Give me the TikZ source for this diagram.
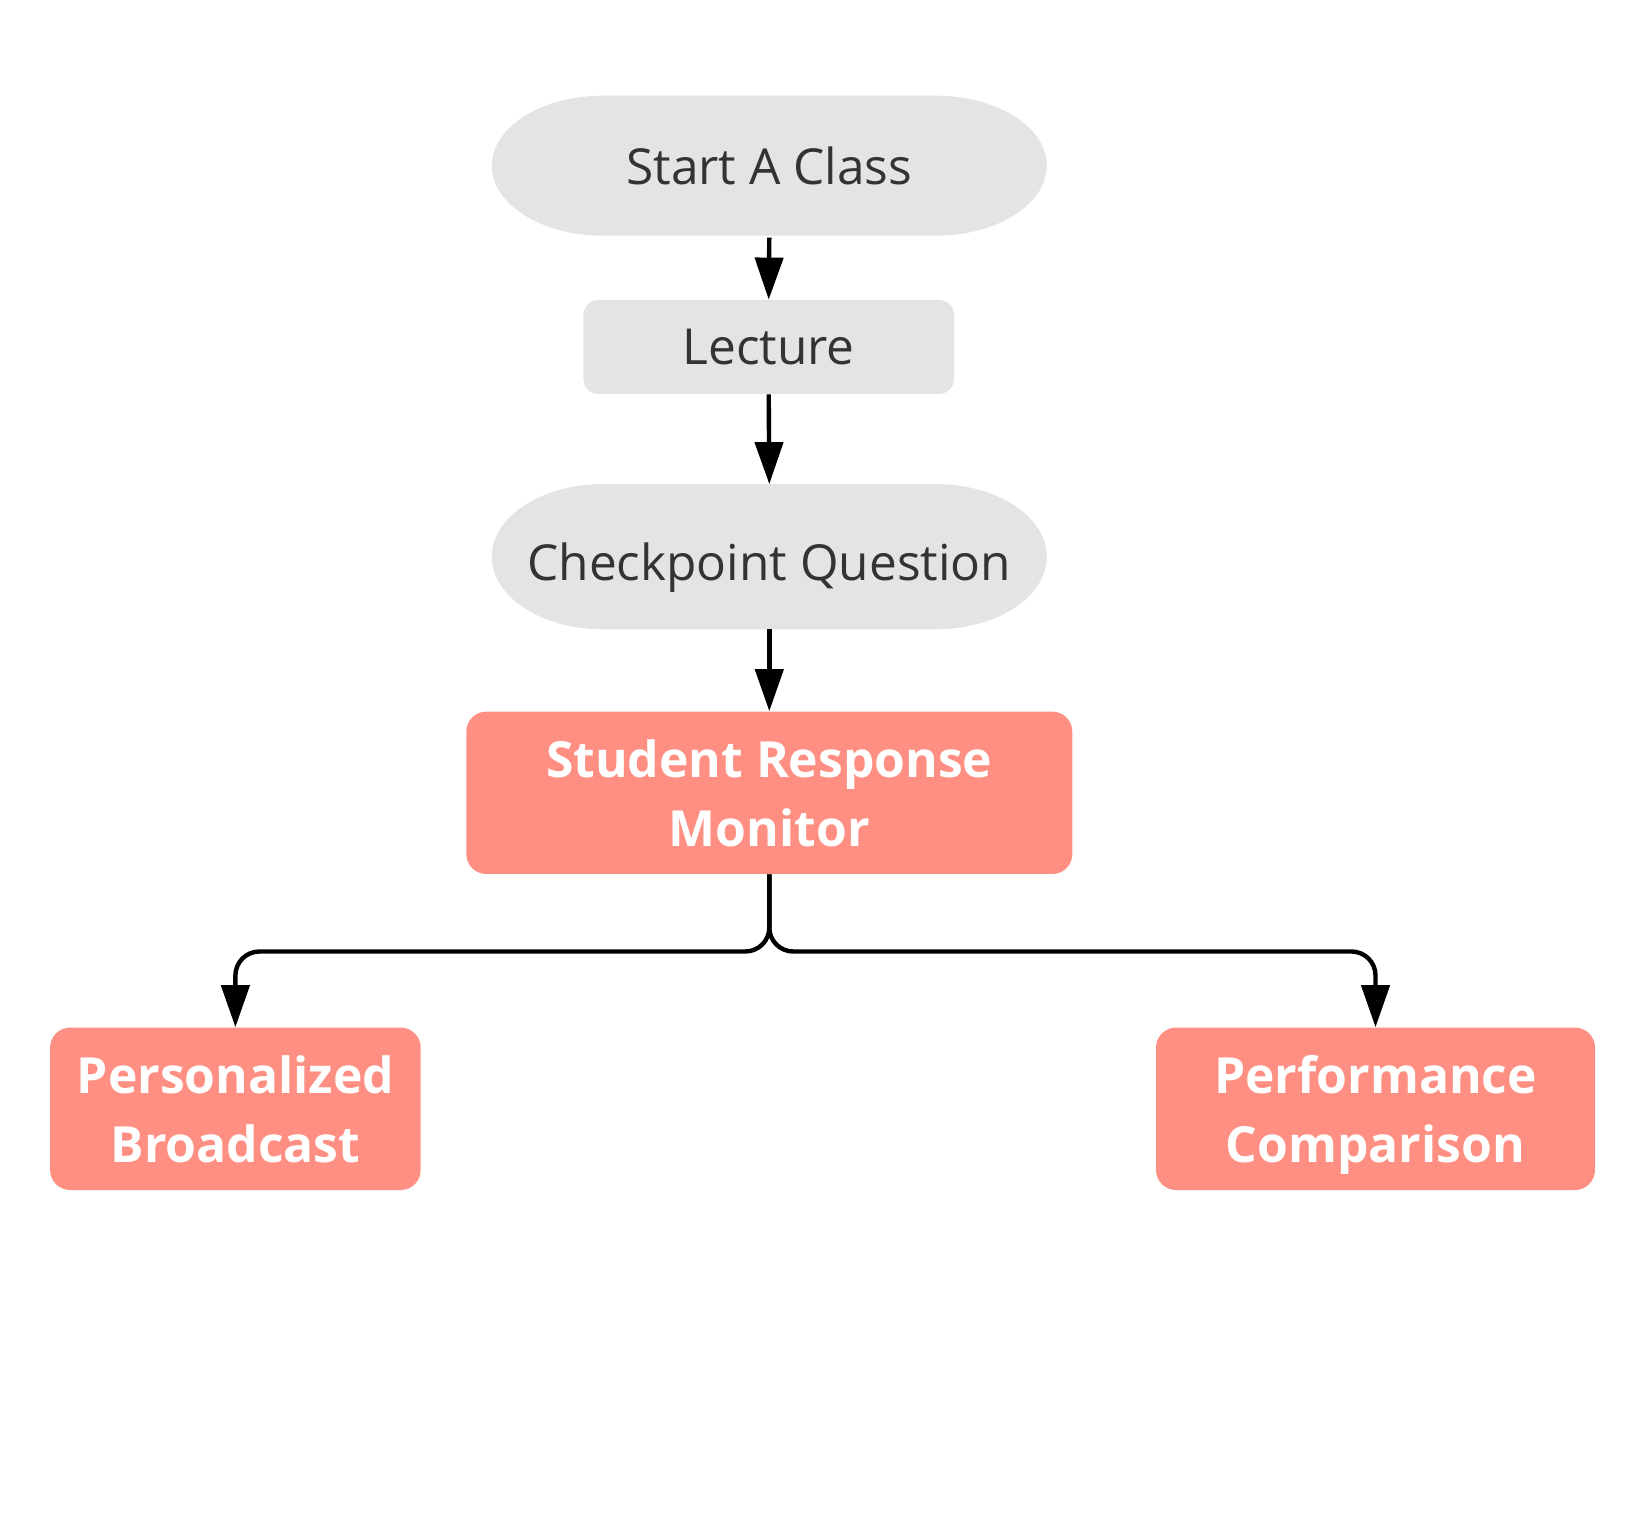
\documentclass[tikz,border=0pt]{standalone}
\usepackage{fontspec}
\setmainfont{Open Sans}
\usetikzlibrary{arrows.meta,backgrounds,calc}
\definecolor{graybg}{RGB}{228,228,228}
\definecolor{graytxt}{RGB}{51,51,51}
\definecolor{salmon}{RGB}{255,143,130}
\tikzset{
  oval/.style={rectangle, inner sep=0pt, outer sep=0pt, minimum width=277.5pt, text=graytxt,
    text depth=0pt, font=\fontsize{24.8pt}{30pt}\selectfont},
  graybox/.style={rectangle, rounded corners=7.5pt, fill=graybg, inner sep=0pt,
    text depth=0pt, text=graytxt, font=\fontsize{24.8pt}{30pt}\selectfont},
  redbox/.style={rectangle, rounded corners=10pt, fill=salmon, inner sep=0pt,
    text=white, align=center, text depth=0pt,
    font=\bfseries\fontsize{24.9pt}{34.3pt}\selectfont},
  conn/.style={line width=2.2pt, -{Triangle[length=21pt,width=14pt]}},
}
\newcommand\ovalfill[2]{%
  \fill[graybg] ($(#1.north west)+(111,0)$) -- ($(#1.north east)+(-111,0)$)
    arc[start angle=90,end angle=-90,x radius=55.5pt,y radius=#2]
    -- ($(#1.south west)+(111,0)$)
    arc[start angle=270,end angle=90,x radius=55.5pt,y radius=#2] -- cycle;}
\begin{document}
\begin{tikzpicture}[x=0.5pt,y=0.5pt]
\useasboundingbox (0,0) rectangle (1652,1516);
\node[oval, minimum height=70pt] (start) at (769.3,1350.3) {Start A Class};
\node[graybox, minimum width=185.3pt, minimum height=47pt] (lecture) at (768.7,1169) {Lecture};
\node[oval, minimum height=72.6pt] (check) at (769.3,959.3) {\raisebox{-5pt}{Checkpoint Question}};
\node[redbox, minimum width=303pt, minimum height=81.2pt] (srm) at (769.3,723.2) {Student Response\\Monitor};
\node[redbox, minimum width=185.3pt, minimum height=81.2pt] (pb) at (235.4,407.2) {Personalized\\Broadcast};
\node[redbox, minimum width=219.5pt, minimum height=81.2pt] (pc) at (1375.5,407.2) {Performance\\Comparison};
\coordinate (split) at (769.3,564.5);
\begin{scope}[on background layer]
  \ovalfill{start}{35pt}
  \ovalfill{check}{36.3pt}
\end{scope}
\draw[conn] ([yshift=-1pt]start.south) -- (lecture.north);
\draw[conn] (lecture.south) -- (check.north);
\draw[conn] (check.south) -- (srm.north);
\draw[conn, rounded corners=12pt] (srm.south) -- (split) -| (pb.north);
\draw[conn, rounded corners=12pt] (srm.south) -- (split) -| (pc.north);
\end{tikzpicture}
\end{document}
